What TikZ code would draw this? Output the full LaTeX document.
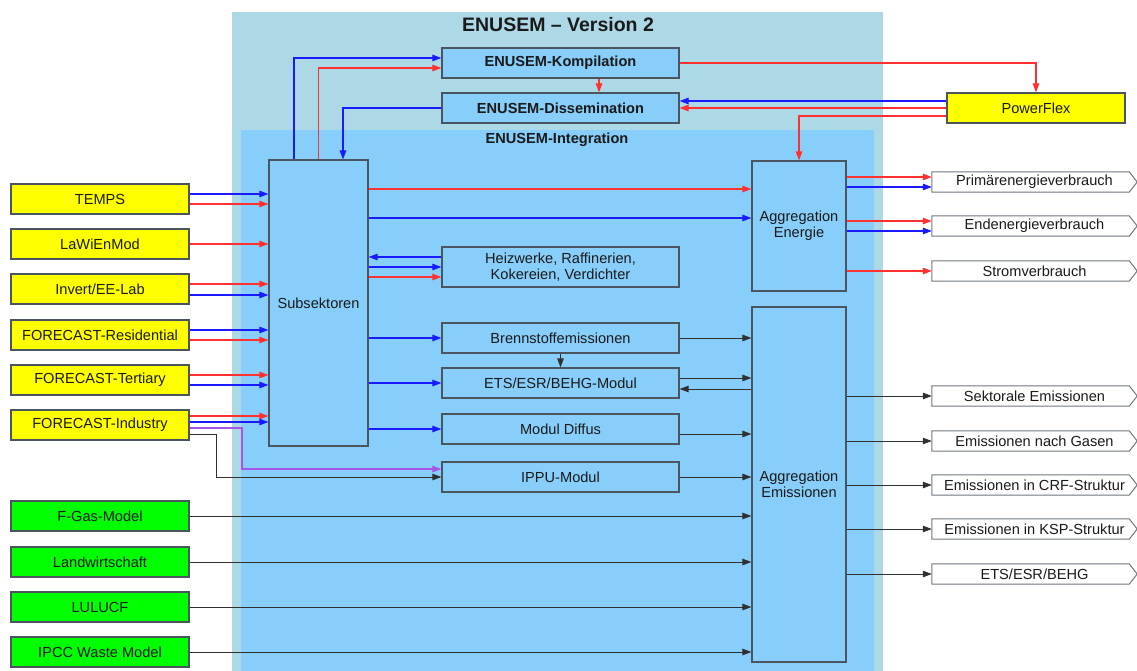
\documentclass[tikz,border=0pt]{standalone}
\usepackage{fontspec}
\setmainfont{Liberation Sans}
\usetikzlibrary{arrows.meta}
\definecolor{outerbg}{HTML}{ADD8E6}
\definecolor{innerbg}{HTML}{87CEFA}
\definecolor{yel}{HTML}{FFFF00}
\definecolor{grn}{HTML}{00FF00}
\definecolor{boxline}{HTML}{4A5560}
\definecolor{lred}{HTML}{FF3030}
\definecolor{lblue}{HTML}{1A1AFF}
\definecolor{lpurple}{HTML}{A855E6}
\definecolor{dk}{HTML}{303030}
\definecolor{txt}{HTML}{1A1A1A}
\tikzset{
  box/.style={draw=boxline, line width=1.2pt, fill=innerbg, inner sep=0pt, align=center, text=txt},
  ybox/.style={box, fill=yel, minimum width=178pt, minimum height=30pt},
  gbox/.style={box, fill=grn, minimum width=178pt, minimum height=30pt},
  mbox/.style={box, minimum width=237pt, minimum height=30pt},
  obox/.style={inner sep=0pt, minimum width=205pt, minimum height=20pt, text=txt},
  tip/.style={-{Triangle[length=9pt,width=6.5pt]}},
  rd/.style={draw=lred, line width=1.1pt, tip},
  bl/.style={draw=lblue, line width=1.1pt, tip},
  bk/.style={draw=dk, line width=1pt, tip},
  pu/.style={draw=lpurple, line width=1.1pt, tip},
}
\begin{document}
\begin{tikzpicture}[x=1pt,y=-1pt,font=\fontsize{14.6}{16}\selectfont]
\useasboundingbox (0,0) rectangle (1137,671);
\fill[white] (0,0) rectangle (1137,671);
% regions
\fill[outerbg] (232,12) rectangle (883,671);
\fill[innerbg] (241,130) rectangle (874,671);
\node[font=\fontsize{19.5}{22}\selectfont\bfseries, text=txt] (title) at (558,25) {ENUSEM -- Version 2};
\node[font=\fontsize{14.6}{16}\selectfont\bfseries, text=txt] (integ) at (557,140) {ENUSEM-Integration};
% top boxes
\node[mbox, font=\fontsize{14.6}{16}\selectfont\bfseries] (komp) at (560.5,63) {ENUSEM-Kompilation};
\node[mbox, font=\fontsize{14.6}{16}\selectfont\bfseries] (diss) at (560.5,108) {ENUSEM-Dissemination};
\node[ybox] (pf) at (1036,108) {PowerFlex};
% inputs
\node[ybox] (temps) at (100,199) {TEMPS};
\node[ybox] (lawi) at (100,244) {LaWiEnMod};
\node[ybox] (inv) at (100,289) {Invert/EE-Lab};
\node[ybox] (res) at (100,335) {FORECAST-Residential};
\node[ybox] (ter) at (100,380) {FORECAST-Tertiary};
\node[ybox] (ind) at (100,425) {FORECAST-Industry};
\node[gbox] (fgas) at (100,516) {F-Gas-Model};
\node[gbox] (landw) at (100,562) {Landwirtschaft};
\node[gbox] (lulucf) at (100,607) {LULUCF};
\node[gbox] (ipcc) at (100,652) {IPCC Waste Model};
% inner
\node[box, minimum width=99pt, minimum height=286pt] (subs) at (318.5,303) {Subsektoren};
\node[mbox, minimum height=40pt] (heiz) at (560.5,267) {Heizwerke, Raffinerien,\\Kokereien, Verdichter};
\node[mbox] (brenn) at (560.5,338) {Brennstoffemissionen};
\node[mbox] (ets) at (560.5,383) {ETS/ESR/BEHG-Modul};
\node[mbox] (diff) at (560.5,429) {Modul Diffus};
\node[mbox] (ippu) at (560.5,477) {IPPU-Modul};
\node[box, minimum width=94pt, minimum height=130pt] (aggE) at (799,226) {Aggregation\\Energie};
\node[box, minimum width=94pt, minimum height=355pt] (aggEm) at (799,484.5) {Aggregation\\Emissionen};
% outputs
\node[obox] (prim) at (1034.5,182) {Primärenergieverbrauch};
\node[obox] (endv) at (1034.5,226) {Endenergieverbrauch};
\node[obox] (strom) at (1034.5,271) {Stromverbrauch};
\node[obox] (sekt) at (1034.5,396) {Sektorale Emissionen};
\node[obox] (gas) at (1034.5,441) {Emissionen nach Gasen};
\node[obox] (crf) at (1034.5,485) {Emissionen in CRF-Struktur};
\node[obox] (ksp) at (1034.5,529) {Emissionen in KSP-Struktur};
\node[obox] (etso) at (1034.5,574) {ETS/ESR/BEHG};
\foreach \n in {prim,endv,strom,sekt,gas,crf,ksp,etso}{
  \draw[draw=boxline!80, line width=1pt] (\n.north west) -- ([xshift=-8pt]\n.north east) -- (\n.east) -- ([xshift=-8pt]\n.south east) -- (\n.south west) -- cycle;
}
% free corners
\coordinate (pc) at (242,469);
\coordinate (kc) at (216,477);
% connectors: inputs -> subs
\draw[bl] ([yshift=5pt]temps.east) -- ([yshift=5pt]temps.east -| subs.west);
\draw[rd] ([yshift=-5pt]temps.east) -- ([yshift=-5pt]temps.east -| subs.west);
\draw[rd] (lawi.east) -- (lawi.east -| subs.west);
\draw[rd] ([yshift=5pt]inv.east) -- ([yshift=5pt]inv.east -| subs.west);
\draw[bl] ([yshift=-6pt]inv.east) -- ([yshift=-6pt]inv.east -| subs.west);
\draw[bl] ([yshift=5pt]res.east) -- ([yshift=5pt]res.east -| subs.west);
\draw[rd] ([yshift=-5pt]res.east) -- ([yshift=-5pt]res.east -| subs.west);
\draw[rd] ([yshift=5pt]ter.east) -- ([yshift=5pt]ter.east -| subs.west);
\draw[bl] ([yshift=-5pt]ter.east) -- ([yshift=-5pt]ter.east -| subs.west);
\draw[rd] ([yshift=9pt]ind.east) -- ([yshift=9pt]ind.east -| subs.west);
\draw[bl] ([yshift=3pt]ind.east) -- ([yshift=3pt]ind.east -| subs.west);
\draw[pu] ([yshift=-3pt]ind.east) -| (pc) -- (pc -| ippu.west);
\draw[bk] ([yshift=-9pt]ind.east) -| (kc) -- (kc -| ippu.west);
% subs <-> top
\draw[bl] ([xshift=-24.5pt]subs.north) |- ([yshift=5pt]komp.west);
\draw[rd] (subs.north) |- ([yshift=-5pt]komp.west);
\draw[bl] (diss.west) -| ([xshift=24.5pt]subs.north);
\draw[rd] ([xshift=38.5pt]komp.south) -- ([xshift=38.5pt]diss.north);
\draw[rd] (komp.east) -| (pf.north);
\draw[bl] ([yshift=7pt]pf.west) -- ([yshift=7pt]pf.west -| diss.east);
\draw[rd] (pf.west) -- (pf.west -| diss.east);
\draw[rd] ([yshift=-8pt]pf.west) -| (aggE.north);
% subs -> modules
\draw[rd] ([yshift=37pt]aggE.west -| subs.east) -- ([yshift=37pt]aggE.west);
\draw[bl] ([yshift=8pt]aggE.west -| subs.east) -- ([yshift=8pt]aggE.west);
\draw[bl] ([yshift=10pt]heiz.west) -- ([yshift=10pt]heiz.west -| subs.east);
\draw[bl] (heiz.west -| subs.east) -- (heiz.west);
\draw[rd] ([yshift=-10pt]heiz.west -| subs.east) -- ([yshift=-10pt]heiz.west);
\draw[bl] (brenn.west -| subs.east) -- (brenn.west);
\draw[bl] (ets.west -| subs.east) -- (ets.west);
\draw[bl] (diff.west -| subs.east) -- (diff.west);
% modules -> aggregation emissions
\draw[bk] (brenn.south) -- (ets.north);
\draw[bk] (brenn.east) -- (brenn.east -| aggEm.west);
\draw[bk] ([yshift=5pt]ets.east) -- ([yshift=5pt]ets.east -| aggEm.west);
\draw[bk] ([yshift=-6pt]ets.east -| aggEm.west) -- ([yshift=-6pt]ets.east);
\draw[bk] ([yshift=-5pt]diff.east) -- ([yshift=-5pt]diff.east -| aggEm.west);
\draw[bk] (ippu.east) -- (ippu.east -| aggEm.west);
\draw[bk] (fgas.east) -- (fgas.east -| aggEm.west);
\draw[bk] (landw.east) -- (landw.east -| aggEm.west);
\draw[bk] (lulucf.east) -- (lulucf.east -| aggEm.west);
\draw[bk] (ipcc.east) -- (ipcc.east -| aggEm.west);
% aggregation -> outputs
\draw[rd] ([yshift=5pt]prim.west -| aggE.east) -- ([yshift=5pt]prim.west);
\draw[bl] ([yshift=-5pt]prim.west -| aggE.east) -- ([yshift=-5pt]prim.west);
\draw[rd] ([yshift=5pt]endv.west -| aggE.east) -- ([yshift=5pt]endv.west);
\draw[bl] ([yshift=-5pt]endv.west -| aggE.east) -- ([yshift=-5pt]endv.west);
\draw[rd] (strom.west -| aggE.east) -- (strom.west);
\foreach \n in {sekt,gas,crf,ksp,etso}{
  \draw[bk] (\n.west -| aggEm.east) -- (\n.west);
}
\end{tikzpicture}
\end{document}
